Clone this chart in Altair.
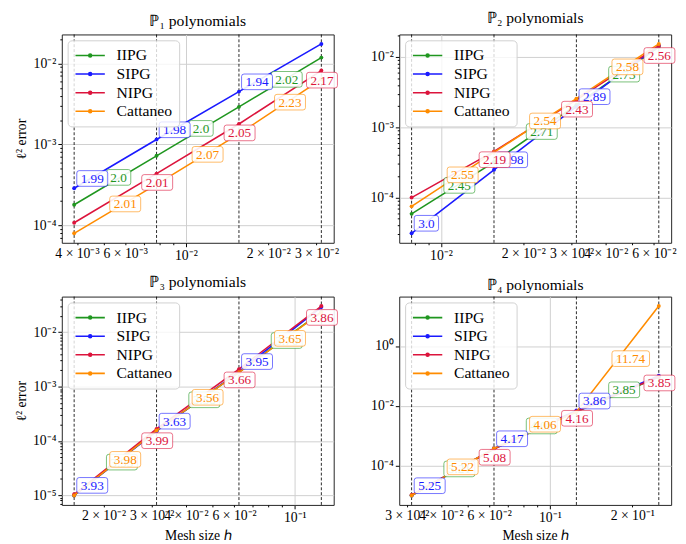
import math
import altair as alt
import pandas as pd

FONT = "Liberation Serif"
SERIES = ["IIPG", "SIPG", "NIPG", "Cattaneo"]
COLORS = ["#1f961f", "#1a1aff", "#dc143c", "#ff8c00"]

# ---------------- data ----------------
P1_H = [0.00390625, 0.0078125, 0.015625, 0.03125]
P1_ERR = {
    "IIPG": [1.80e-4, 7.24e-4, 2.91e-3, 1.18e-2],
    "SIPG": [2.88e-4, 1.15e-3, 4.49e-3, 1.74e-2],
    "NIPG": [1.08e-4, 4.37e-4, 1.79e-3, 8.17e-3],
    "Cattaneo": [8.0e-5, 3.22e-4, 1.35e-3, 6.37e-3],
}
P1_RATE = {
    "IIPG": ["2.0", "2.0", "2.02"],
    "SIPG": ["1.99", "1.98", "1.94"],
    "NIPG": ["2.01", "2.05", "2.17"],
    "Cattaneo": ["2.01", "2.07", "2.23"],
}
P1_XTICKS = [4e-3, 6e-3, 1e-2, 2e-2, 3e-2]
P1_XLABELS = ["4 × 10⁻³", "6 × 10⁻³", "10⁻²", "2 × 10⁻²", "3 × 10⁻²"]
P1_YTICKS = [1e-4, 1e-3, 1e-2]
P1_YLABELS = ["10⁻⁴", "10⁻³", "10⁻²"]

P2_H = [0.0078125, 0.015625, 0.03125, 0.0625]
P2_ERR = {
    "IIPG": [5.87e-5, 3.20e-4, 2.08e-3, 1.38e-2],
    "SIPG": [3.10e-5, 2.48e-4, 1.96e-3, 1.45e-2],
    "NIPG": [1.00e-4, 4.54e-4, 2.45e-3, 1.44e-2],
    "Cattaneo": [7.5e-5, 4.40e-4, 2.55e-3, 1.53e-2],
}
P2_RATE = {
    "IIPG": ["2.45", "2.71", "2.73"],
    "SIPG": ["3.0", "2.98", "2.89"],
    "NIPG": ["2.19", "2.43", "2.56"],
    "Cattaneo": ["2.55", "2.54", "2.58"],
}
P2_XTICKS = [1e-2, 2e-2, 3e-2, 4e-2, 6e-2]
P2_XLABELS = ["10⁻²", "2 × 10⁻²", "3 × 10⁻²", "4 × 10⁻²", "6 × 10⁻²"]
P2_YTICKS = [1e-4, 1e-3, 1e-2]
P2_YLABELS = ["10⁻⁴", "10⁻³", "10⁻²"]

P3_H = [0.015625, 0.03125, 0.0625, 0.125]
P3_ERR = {
    "IIPG": [9.9e-6, 1.53e-4, 1.83e-3, 2.37e-2],
    "SIPG": [9.9e-6, 1.51e-4, 1.88e-3, 2.91e-2],
    "NIPG": [1.04e-5, 1.66e-4, 2.09e-3, 3.03e-2],
    "Cattaneo": [9.9e-6, 1.55e-4, 1.83e-3, 2.31e-2],
}
P3_RATE = {
    "IIPG": ["3.95", "3.58", "3.70"],
    "SIPG": ["3.93", "3.63", "3.95"],
    "NIPG": ["3.99", "3.66", "3.86"],
    "Cattaneo": ["3.98", "3.56", "3.65"],
}
P3_XTICKS = [2e-2, 3e-2, 4e-2, 6e-2, 1e-1]
P3_XLABELS = ["2 × 10⁻²", "3 × 10⁻²", "4 × 10⁻²", "6 × 10⁻²", "10⁻¹"]
P3_YTICKS = [1e-5, 1e-4, 1e-3, 1e-2]
P3_YLABELS = ["10⁻⁵", "10⁻⁴", "10⁻³", "10⁻²"]

P4_H = [0.03125, 0.0625, 0.125, 0.25]
P4_ERR = {
    "IIPG": [1.03e-5, 3.72e-4, 6.37e-3, 9.3e-2],
    "SIPG": [1.03e-5, 3.86e-4, 7.05e-3, 1.026e-1],
    "NIPG": [1.08e-5, 3.67e-4, 6.53e-3, 9.51e-2],
    "Cattaneo": [1.03e-5, 3.86e-4, 6.37e-3, 21.7],
}
P4_RATE = {
    "IIPG": ["5.21", "4.08", "3.85"],
    "SIPG": ["5.25", "4.17", "3.86"],
    "NIPG": ["5.08", "4.16", "3.85"],
    "Cattaneo": ["5.22", "4.06", "11.74"],
}
P4_XTICKS = [3e-2, 4e-2, 6e-2, 1e-1, 2e-1]
P4_XLABELS = ["3 × 10⁻²", "4 × 10⁻²", "6 × 10⁻²", "10⁻¹", "2 × 10⁻¹"]
P4_YTICKS = [1e-4, 1e-2, 1e0]
P4_YLABELS = ["10⁻⁴", "10⁻²", "10⁰"]

# ---------------- styling helpers ----------------
FRAC = {"IIPG": 0.38, "SIPG": 0.02, "NIPG": 0.82, "Cattaneo": 0.42}
MODE = {"IIPG": "bottom", "SIPG": "bottom", "NIPG": "center", "Cattaneo": "bottom"}
LABEL_FS = 13.5
PAD = 4
BOX_H = 16
W, H = 278, 213

cscale = alt.Scale(domain=SERIES, range=COLORS)


def text_width(s):
    return sum(LABEL_FS * (0.25 if c == "." else 0.5) for c in s)


def box_geom(mode, w):
    if mode == "bottom":
        return 1.0, 1.0 + w, -BOX_H - 1.0, -1.0
    return 0.0, w, -BOX_H / 2, BOX_H / 2


def box_path(mode, w):
    x0, x1, y0, y1 = box_geom(mode, w)
    r = 2.5
    return (f"M{x0 + r},{y0}L{x1 - r},{y0}Q{x1},{y0},{x1},{y0 + r}"
            f"L{x1},{y1 - r}Q{x1},{y1},{x1 - r},{y1}L{x0 + r},{y1}"
            f"Q{x0},{y1},{x0},{y1 - r}L{x0},{y0 + r}Q{x0},{y0},{x0 + r},{y0}Z")


def log_domain(vals):
    lo, hi = math.log10(min(vals)), math.log10(max(vals))
    m = 0.05 * (hi - lo)
    return [10 ** (lo - m), 10 ** (hi + m)]


def decades(dom):
    out = []
    for e in range(math.floor(math.log10(dom[0])), math.ceil(math.log10(dom[1])) + 1):
        v = float(f"1e{e}")
        if dom[0] <= v <= dom[1]:
            out.append(v)
    return out


def minors(dom):
    out = []
    for e in range(math.floor(math.log10(dom[0])), math.ceil(math.log10(dom[1])) + 1):
        for k in range(2, 10):
            v = float(f"{k}e{e}")
            if dom[0] <= v <= dom[1]:
                out.append(v)
    return out


def make_axis(ticks, labels, grid_vals, minor_vals, title):
    values = sorted(set(ticks + grid_vals + minor_vals))
    expr = "''"
    for v, lab in zip(ticks, labels):
        expr = f"datum.value == {v!r} ? '{lab}' : ({expr})"
    test = " || ".join(f"datum.value == {v!r}" for v in grid_vals)
    return alt.Axis(
        values=values, labelExpr=expr, title=title, grid=True,
        gridOpacity={"condition": {"test": test, "value": 1}, "value": 0},
        tickSize={"condition": {"test": test, "value": 4}, "value": 2},
        labelOverlap=False, labelFlush=False, domain=False,
    )


def panel(title, h, errs, rates, xticks, xlabels, yticks, ylabels,
          ytitle, xtitle, y_minor=True, y_grid=None):
    all_err = [v for s in SERIES for v in errs[s]]
    xdom = log_domain(h)
    ydom = log_domain(all_err)
    xgrid = decades(xdom)
    ygrid = y_grid if y_grid is not None else decades(ydom)
    xaxis = make_axis(xticks, xlabels, xgrid, minors(xdom), xtitle)
    yaxis = make_axis(yticks, ylabels, ygrid, minors(ydom) if y_minor else [], ytitle)
    xs = alt.Scale(type="log", domain=xdom, nice=False)
    ys = alt.Scale(type="log", domain=ydom, nice=False)

    layers = []
    layers.append(
        alt.Chart(pd.DataFrame({"h": h})).mark_rule(
            color="black", strokeDash=[3, 2], strokeWidth=1, opacity=0.85
        ).encode(x=alt.X("h:Q", scale=xs, axis=xaxis))
    )
    for s in SERIES:
        df = pd.DataFrame({"h": h, "err": errs[s], "series": s})
        layers.append(
            alt.Chart(df).mark_line(
                strokeWidth=1.6,
                point=alt.OverlayMarkDef(filled=True, size=16, opacity=1),
            ).encode(
                x=alt.X("h:Q", scale=xs, axis=xaxis),
                y=alt.Y("err:Q", scale=ys, axis=yaxis),
                color=alt.Color("series:N", scale=cscale, legend=alt.Legend(title=None)),
            )
        )
    for s, col in zip(SERIES, COLORS):
        rows = []
        for i in range(3):
            f = FRAC[s]
            e = errs[s]
            rows.append({
                "x": h[i] * (h[i + 1] / h[i]) ** f,
                "y": e[i] * (e[i + 1] / e[i]) ** f,
                "label": rates[s][i],
                "path": box_path(MODE[s], text_width(rates[s][i]) + 2 * PAD),
            })
        ldf = pd.DataFrame(rows)
        x0, x1, y0, y1 = box_geom(MODE[s], 10)
        layers.append(
            alt.Chart(ldf).mark_point(
                filled=True, fill="white", fillOpacity=0.9, stroke=col,
                strokeOpacity=0.6, strokeWidth=1, opacity=1, size=4,
            ).encode(
                x=alt.X("x:Q", scale=xs, axis=xaxis),
                y=alt.Y("y:Q", scale=ys, axis=yaxis),
                shape=alt.Shape("path:N", scale=None),
            )
        )
        layers.append(
            alt.Chart(ldf).mark_text(
                font=FONT, fontSize=LABEL_FS, align="left", baseline="middle",
                dx=x0 + PAD, dy=(y0 + y1) / 2 + 0.5, color=col,
            ).encode(
                x=alt.X("x:Q", scale=xs, axis=xaxis),
                y=alt.Y("y:Q", scale=ys, axis=yaxis),
                text="label:N",
            )
        )
    return alt.layer(*layers).properties(
        width=W, height=H,
        title=alt.TitleParams(title, font=FONT, fontSize=16, fontWeight="normal", offset=3),
    )


p1 = panel("ℙ₁ polynomials", P1_H, P1_ERR, P1_RATE, P1_XTICKS, P1_XLABELS,
           P1_YTICKS, P1_YLABELS, "ℓ² error", None)
p2 = panel("ℙ₂ polynomials", P2_H, P2_ERR, P2_RATE, P2_XTICKS, P2_XLABELS,
           P2_YTICKS, P2_YLABELS, None, None)
p3 = panel("ℙ₃ polynomials", P3_H, P3_ERR, P3_RATE, P3_XTICKS, P3_XLABELS,
           P3_YTICKS, P3_YLABELS, "ℓ² error", "Mesh size ℎ")
p4 = panel("ℙ₄ polynomials", P4_H, P4_ERR, P4_RATE, P4_XTICKS, P4_XLABELS,
           P4_YTICKS, P4_YLABELS, None, "Mesh size ℎ", y_minor=False,
           y_grid=P4_YTICKS)

LEGEND_SYMBOL = ("M-1,0L3,0M1.2,0A0.2,0.2,0,1,1,0.8,0A0.2,0.2,0,1,1,1.2,0")

chart = alt.concat(
    p1, p2, p3, p4, columns=2, spacing={"row": 55, "column": 67}, bounds="flush"
).resolve_scale(
    color="independent"
).properties(
    padding={"left": 6, "top": -5, "right": 0, "bottom": 0}
).configure_view(
    stroke="#222222", strokeWidth=1
).configure_title(
    font=FONT, fontSize=16, fontWeight="normal", color="black"
).configure_axis(
    labelFont=FONT, labelFontSize=14, labelColor="black",
    titleFont=FONT, titleFontSize=14, titleFontWeight="normal", titleColor="black",
    tickColor="black", tickWidth=1, gridColor="#cfcfcf", gridWidth=1,
    labelPadding=2, titlePadding=4,
).configure_legend(
    orient="top-left", offset=6, padding=7, rowPadding=2,
    symbolType=LEGEND_SYMBOL, symbolSize=225, symbolStrokeWidth=1.6,
    labelFont=FONT, labelFontSize=16, labelColor="black", labelOffset=26,
    fillColor="rgba(255,255,255,0.8)", strokeColor="#d0d0d0", cornerRadius=4,
)

chart.save("out.html", embed_options={"renderer": "svg", "actions": False})
